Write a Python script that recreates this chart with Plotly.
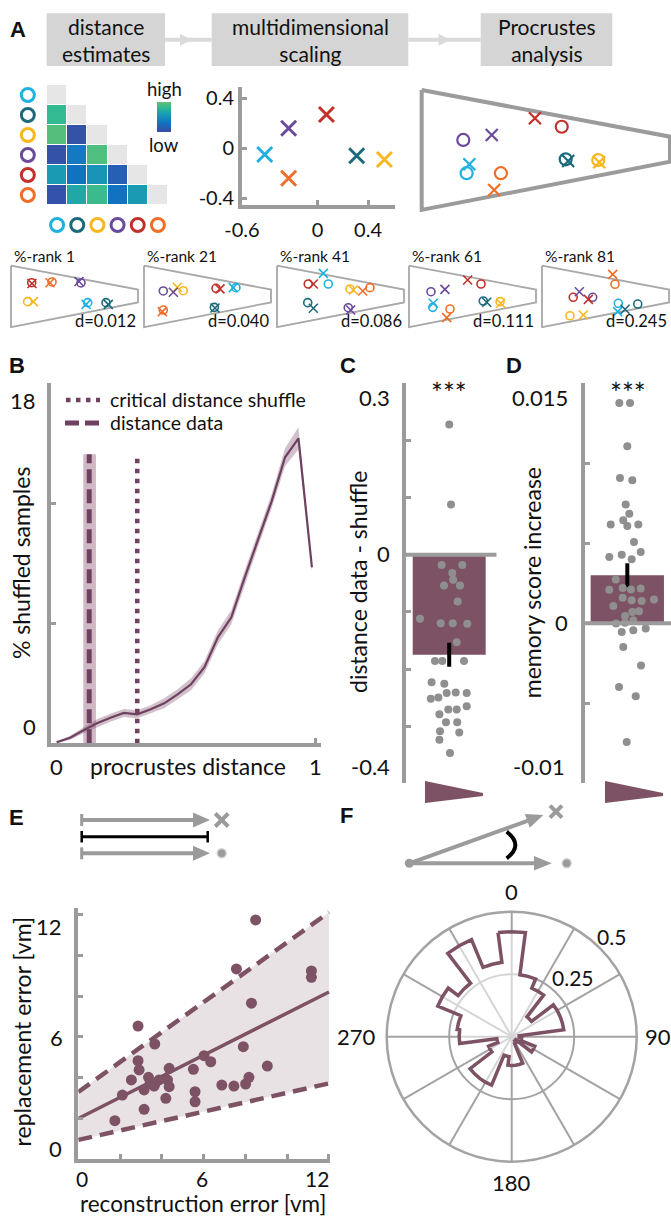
import plotly.graph_objects as go

W, H = 671, 1218
FONT = 'Lato'
GRAY = '#9b9b9b'
MAUVE = '#7d5264'
LMAUVE = '#6f4161'
DOT = '#8f8f8f'

def X(p):
    return p / W

def Y(p):
    return 1 - p / H

def dx(a, b):
    return [max(0, a / W), min(1, b / W)]

def dy(top, bottom):
    return [max(0, 1 - bottom / H), min(1, 1 - top / H)]

# ---------------- data ----------------
items = ['cyan', 'teal', 'yellow', 'purple', 'red', 'orange']
item_colors = ['#1fb1e0', '#1a6a7a', '#f8b71f', '#6a4a9b', '#c1312a', '#ef6e28']
item_idx = [0, 1, 2, 3, 4, 5]

# lower triangle of the distance-estimate matrix (0 = low, 1 = high)
dist_rows = [[], [0.82], [0.95, 0.05], [0.05, 0.35, 0.93],
             [0.6, 0.3, 0.55, 0.15], [0.06, 0.68, 0.85, 0.3, 0.6]]

# multidimensional scaling solution
mds_x = [-0.42, 0.31, 0.53, -0.23, 0.07, -0.23]
mds_y = [-0.05, -0.06, -0.09, 0.16, 0.27, -0.24]

# arena outline (arena units)
arena_u = [0, 100, 100, 0, 0]
arena_v = [0, 18.8, 28.9, 48.3, 0]

# procrustes: true (o) and reconstructed (x) positions
true_u = [18.1, 58.0, 71.1, 16.75, 56.4, 31.9]
true_v = [33.5, 27.9, 28.2, 20.1, 14.8, 33.5]
rec_u = [19.2, 59.0, 71.5, 28.2, 45.6, 29.2]
rec_v = [29.9, 28.6, 29.1, 18.1, 11.4, 40.3]

# shuffle examples
rank_labels = ['1', '21', '41', '61', '81']
rank_d = ['0.012', '0.040', '0.086', '0.111', '0.245']
rank_true_u = [[60.4, 74.8, 13.1, 55.1, 16.3, 32.3],
               [72.4, 55.4, 30.9, 15.2, 56.7, 15.2],
               [40.4, 24.2, 57.5, 56.1, 24.6, 73.2],
               [18.7, 58.5, 71.7, 17.3, 56.7, 32.3],
               [60.1, 75.4, 22.0, 39.9, 24.6, 57.5]]
rank_true_v = [[29.1, 29.1, 28.3, 13.6, 13.4, 12.8],
               [17.3, 32.8, 19.7, 19.9, 17.8, 34.9],
               [14.4, 29.1, 18.3, 33.1, 14.4, 17.3],
               [32.8, 27.8, 28.3, 20.5, 14.4, 34.1],
               [29.6, 30.2, 39.4, 24.9, 24.9, 14.6]]
rank_rec_u = [[59.1, 76.6, 17.6, 53.5, 16.5, 30.7],
              [70.3, 55.9, 26.2, 23.1, 59.8, 14.4],
              [36.5, 28.6, 60.1, 58.0, 28.6, 67.5],
              [19.1, 61.2, 72.2, 28.3, 46.2, 29.7],
              [59.6, 65.4, 32.5, 29.4, 36.5, 55.7]]
rank_rec_v = [[30.5, 30.5, 28.3, 12.4, 14.0, 13.4],
              [17.3, 33.3, 17.0, 20.9, 18.3, 36.2],
              [6.0, 33.5, 19.1, 34.9, 14.4, 19.9],
              [29.6, 28.8, 29.6, 18.6, 11.3, 40.9],
              [36.2, 34.3, 38.8, 20.5, 26.5, 6.8]]

# B: distribution of procrustes distances of shuffles
proc_x = [0, 0.052, 0.104, 0.156, 0.208, 0.26, 0.312, 0.364, 0.416, 0.468,
          0.52, 0.572, 0.624, 0.676, 0.728, 0.78, 0.832, 0.884, 0.936, 0.988]
shuffle_pct = [0.05, 0.28, 0.65, 1.0, 1.28, 1.52, 1.45, 1.7, 2.0, 2.45,
               2.95, 3.8, 5.3, 6.3, 8.3, 10.2, 12.1, 14.3, 15.25, 8.8]
shuffle_ci = [0.05, 0.1, 0.15, 0.2, 0.2, 0.2, 0.2, 0.2, 0.25, 0.25,
              0.3, 0.3, 0.35, 0.35, 0.35, 0.35, 0.35, 0.45, 0.55, 0.2]
crit_shuffle = 0.312
data_dist = 0.126
data_ci = [0.103, 0.152]
vline_top = 14.45

# C: distance data - shuffle
c_mean, c_sem = -0.175, 0.021
c_jit = [0.001, 0.025, -0.103, 0.179, 0.042, 0.055, -0.071, 0.148, 0.116, -0.4,
         -0.116, 0.048, 0.248, 0.103, -0.195, -0.094, 0.203, -0.241, -0.067, -0.252,
         -0.148, -0.034, 0.089, 0.24, -0.134, -0.012, 0.103, 0.24, -0.044, 0.11,
         -0.126, 0.138, -0.134, 0.011]
c_val = [0.228, 0.088, -0.018, -0.018, -0.032, -0.044, -0.054, -0.054, -0.082, -0.112,
         -0.12, -0.12, -0.121, -0.153, -0.186, -0.186, -0.186, -0.223, -0.226, -0.252,
         -0.25, -0.242, -0.241, -0.242, -0.279, -0.271, -0.271, -0.265, -0.293, -0.293,
         -0.309, -0.311, -0.324, -0.347]

# D: memory score increase
d_mean, d_sem = 0.003, 0.00075
d_jit = [-0.109, 0.037, 0.0, -0.1, 0.068, -0.022, 0.027, -0.055, -0.226, 0.0,
         0.15, 0.091, -0.246, -0.076, 0.06, 0.183, -0.158, -0.246, -0.063, 0.05,
         0.183, 0.364, -0.191, -0.063, 0.06, 0.196, -0.031, 0.068, 0.16, -0.154,
         -0.031, 0.082, -0.076, 0.082, 0.251, -0.055, 0.187, -0.113, 0.115, -0.008]
d_val = [0.01377, 0.01377, 0.01106, 0.00908, 0.00894, 0.00742, 0.00685, 0.00644, 0.00617, 0.00608,
         0.00617, 0.00508, 0.00415, 0.00429, 0.004, 0.00446, 0.00273, 0.0021, 0.00221, 0.00212,
         0.00217, 0.00148, 0.00108, 0.0016, 0.00144, 0.0014, 0.00046, 0.00071, 0.00075, -0.00002,
         0.00004, 0.00019, -0.00054, -0.00044, -0.00033, -0.00148, -0.00263, -0.00398, -0.00456, -0.00742]

# E: reconstruction vs replacement error
recon = [8.49, 11.16, 11.16, 7.57, 8.29, 2.86, 3.66, 2.86, 2.91, 2.54,
         3.36, 4.35, 5.51, 6.02, 6.34, 7.9, 9.05, 8.17, 8.01, 7.45,
         6.87, 4.27, 4.35, 3.66, 3.15, 3.63, 2.11, 5.59, 5.59, 4.19,
         3.15, 1.75, 3.44, 3.87]
replace = [11.73, 9.23, 8.92, 9.33, 7.65, 6.53, 5.65, 4.83, 4.38, 3.89,
           4.02, 4.46, 4.41, 5.08, 4.78, 5.52, 4.57, 4.02, 3.69, 3.59,
           3.64, 3.89, 3.56, 3.69, 3.40, 3.59, 3.15, 3.31, 2.82, 2.99,
           2.45, 1.89, 3.72, 3.89]
fit_x = [0, 12]
fit_y = [2.0, 8.2]
fit_hi = [3.3, 12.1]
fit_lo = [0.95, 3.72]

# F: angular error distribution (15 deg bins)
rose_theta = [0, 15, 30, 45, 60, 75, 90, 105, 120, 135, 150, 165,
              180, 195, 210, 225, 240, 255, 270, 285, 300, 315, 330, 345]
rose_r = [0.42, 0.25, 0.21, 0.10, 0.21, 0.21, 0.03, 0.04, 0.10, 0.02, 0.03, 0.115,
          0.115, 0.08, 0.21, 0.21, 0.10, 0.06, 0.21, 0.22, 0.32, 0.27, 0.42, 0.30]

# ---------------- figure ----------------
fig = go.Figure()
L = dict(width=W, height=H, margin=dict(l=0, r=0, t=0, b=0, autoexpand=False),
         paper_bgcolor='white', plot_bgcolor='white', showlegend=False)
shapes = []
anns = []

def T(x, y, s, size=23, xa='center', ya='middle', angle=0, bold=False, color='#111111'):
    anns.append(dict(x=X(x), y=Y(y), xref='paper', yref='paper', text=('<b>%s</b>' % s) if bold else s,
                     showarrow=False, xanchor=xa, yanchor=ya, textangle=angle,
                     font=dict(size=size, family='Liberation Sans' if bold else FONT, color=color)))

def line(x0, y0, x1, y1, color=GRAY, width=4, dash=None):
    d = dict(type='line', xref='paper', yref='paper', x0=X(x0), y0=Y(y0), x1=X(x1), y1=Y(y1),
             line=dict(color=color, width=width))
    if dash:
        d['line']['dash'] = dash
    shapes.append(d)

def poly(pts, fill, lw=0, lc=None):
    path = 'M ' + ' L '.join('%f %f' % (X(a), Y(b)) for a, b in pts) + ' Z'
    shapes.append(dict(type='path', xref='paper', yref='paper', path=path, fillcolor=fill,
                       line=dict(width=lw, color=lc or fill)))

def hidden(n, xd, yd, xr, yr):
    s = '' if n == 1 else str(n)
    L['xaxis' + s] = dict(domain=xd, range=xr, visible=False, anchor='y' + s)
    L['yaxis' + s] = dict(domain=yd, range=yr, visible=False, anchor='x' + s)

# ---- A header boxes ----
for (a, b), l1, l2 in [((46.7, 165), 'distance', 'estimates'),
                       ((211.7, 408.3), 'multidimensional', 'scaling'),
                       ((480.7, 612.3), 'Procrustes', 'analysis')]:
    shapes.append(dict(type='rect', xref='paper', yref='paper', x0=X(a), x1=X(b), y0=Y(66), y1=Y(13.3),
                       fillcolor='#d5d5d5', line=dict(width=0)))
    T((a + b) / 2, 40, l1 + '<br>' + l2, size=21)
for a, b, h in [(165, 211.7, 180), (408.3, 480.7, 438.5)]:
    line(a, 39.7, b, 39.7, color='#dadada', width=4)
    poly([(h, 33.7), (h + 12, 39.7), (h, 45.7)], '#dadada')
T(18, 30, 'A', size=22, bold=True)

# ---- matrix ----
z = [[None] * 6 for _ in range(6)]
zd = [[None] * 6 for _ in range(6)]
for i, row in enumerate(dist_rows):
    for j, v in enumerate(row):
        z[i][j] = v
    zd[i][i] = 1
fig.add_trace(go.Heatmap(z=zd, x=item_idx, y=item_idx, colorscale=[[0, '#e6e6e6'], [1, '#e6e6e6']],
                         showscale=False, xgap=1, ygap=1, xaxis='x', yaxis='y', hoverinfo='skip'))
fig.add_trace(go.Heatmap(z=z, x=item_idx, y=item_idx, zmin=0, zmax=1, xgap=1, ygap=1,
                         colorscale=[[0, '#3a4ba3'], [0.3, '#1272c2'], [0.6, '#1a9bb3'],
                                     [0.8, '#2eb995'], [1, '#63c073']],
                         colorbar=dict(x=X(157), xanchor='left', y=Y(117), yanchor='middle', len=30,
                                       lenmode='pixels', thickness=14, thicknessmode='pixels',
                                       showticklabels=False, ticks='', outlinewidth=0, xpad=0, ypad=0),
                         xaxis='x', yaxis='y', hoverinfo='skip'))
fig.add_trace(go.Scatter(x=[-1.45] * 6, y=item_idx, mode='markers', cliponaxis=False,
                         marker=dict(symbol='circle-open', size=13, color=item_colors, line=dict(width=3)),
                         xaxis='x', yaxis='y'))
fig.add_trace(go.Scatter(x=item_idx, y=[6.5] * 6, mode='markers', cliponaxis=False,
                         marker=dict(symbol='circle-open', size=13, color=item_colors, line=dict(width=3)),
                         xaxis='x', yaxis='y'))
# cell = 20.17 px wide, 20 px tall; axis extends to hold the item circles
hidden(1, dx(47 - 1.5 * 20.17, 168), dy(85, 205 + 1.5 * 20), [-2.0, 5.5], [7.0, -0.5])
T(164, 89, 'high', size=18.5)
T(164, 145, 'low', size=18.5)

# ---- MDS ----
fig.add_trace(go.Scatter(x=mds_x, y=mds_y, mode='markers', cliponaxis=False,
                         marker=dict(symbol='x-thin', size=15, color=item_colors,
                                     line=dict(width=3, color=item_colors)),
                         xaxis='x2', yaxis='y2'))
ax_common = dict(showline=True, linecolor=GRAY, linewidth=4, ticks='inside', ticklen=5, tickwidth=3,
                 tickcolor=GRAY, showgrid=False, zeroline=False, tickfont=dict(size=20, family=FONT, color='#111'))
L['xaxis2'] = dict(domain=dx(242, 395), range=[-0.6, 0.614], anchor='y2', tickvals=[-0.6, 0, 0.4],
                   ticktext=['-0.6', '0', '0.4'], ticklabelstandoff=4, **ax_common)
L['yaxis2'] = dict(domain=dy(87, 205), range=[-0.454, 0.49], anchor='x2', tickvals=[-0.4, 0, 0.4],
                   ticktext=['-0.4', '0', '0.4'], **ax_common)

# ---- big arena ----
fig.add_trace(go.Scatter(x=arena_u, y=arena_v, mode='lines', line=dict(color=GRAY, width=4),
                         xaxis='x3', yaxis='y3'))
fig.add_trace(go.Scatter(x=true_u, y=true_v, mode='markers',
                         marker=dict(symbol='circle-open', size=12, color=item_colors, line=dict(width=2.2)),
                         xaxis='x3', yaxis='y3'))
fig.add_trace(go.Scatter(x=rec_u, y=rec_v, mode='markers',
                         marker=dict(symbol='x-thin', size=12, color=item_colors,
                                     line=dict(width=2.2, color=item_colors)),
                         xaxis='x3', yaxis='y3'))
hidden(3, dx(412, 671), dy(84, 216), [-3.9, 100.4], [50.74, -2.42])

# ---- shuffle examples ----
lefts = [11, 144, 277, 409, 542]
for k in range(5):
    n = 4 + k
    xa, ya = 'x%d' % n, 'y%d' % n
    fig.add_trace(go.Scatter(x=arena_u, y=arena_v, mode='lines', line=dict(color='#a8a8a8', width=1.8),
                             xaxis=xa, yaxis=ya))
    fig.add_trace(go.Scatter(x=rank_true_u[k], y=rank_true_v[k], mode='markers', cliponaxis=False,
                             marker=dict(symbol='circle-open', size=8, color=item_colors, line=dict(width=1.6)),
                             xaxis=xa, yaxis=ya))
    fig.add_trace(go.Scatter(x=rank_rec_u[k], y=rank_rec_v[k], mode='markers', cliponaxis=False,
                             marker=dict(symbol='x-thin', size=9, color=item_colors,
                                         line=dict(width=1.6, color=item_colors)),
                             xaxis=xa, yaxis=ya))
    lf = lefts[k]
    hidden(n, dx(lf - 3, lf + 129), dy(262, 331), [-3 / 1.27, 129 / 1.27], [51.42, -2.913])
    T(lf + 0.5, 256, '%-rank ' + rank_labels[k], size=15.5, xa='left')
    T(lf + 127, 321, 'd=' + rank_d[k], size=16.5, xa='right')

# ---- B ----
lo = [a - b for a, b in zip(shuffle_pct, shuffle_ci)]
hi = [a + b for a, b in zip(shuffle_pct, shuffle_ci)]
fig.add_trace(go.Scatter(x=[data_ci[0], data_ci[1], data_ci[1], data_ci[0]], y=[0, 0, vline_top, vline_top],
                         mode='lines', fill='toself', fillcolor='rgba(150,100,125,0.45)', line=dict(width=0),
                         xaxis='x9', yaxis='y9'))
fig.add_trace(go.Scatter(x=proc_x, y=lo, mode='lines', line=dict(width=0), xaxis='x9', yaxis='y9'))
fig.add_trace(go.Scatter(x=proc_x, y=hi, mode='lines', line=dict(width=0), fill='tonexty',
                         fillcolor='rgba(125,75,105,0.35)', xaxis='x9', yaxis='y9'))
fig.add_trace(go.Scatter(x=proc_x, y=shuffle_pct, mode='lines', line=dict(color=LMAUVE, width=2.2),
                         xaxis='x9', yaxis='y9'))
fig.add_trace(go.Scatter(x=[data_dist, data_dist], y=[0, vline_top], mode='lines',
                         line=dict(color=LMAUVE, width=5, dash='14px,6px'), xaxis='x9', yaxis='y9'))
fig.add_trace(go.Scatter(x=[crit_shuffle, crit_shuffle], y=[0, vline_top], mode='lines',
                         line=dict(color=LMAUVE, width=4.5, dash='4.5px,5.5px'), xaxis='x9', yaxis='y9'))
ac2 = {k: v for k, v in ax_common.items() if k != 'tickfont'}
L['xaxis9'] = dict(domain=dx(51, 320.7), range=[-0.022, 1.022], anchor='y9', tickvals=[1],
                   showticklabels=False, **ac2)
L['yaxis9'] = dict(domain=dy(383.3, 743.3), range=[0, 18], anchor='x9', tickvals=[0, 6, 12, 18],
                   showticklabels=False, **ac2)
T(17, 365, 'B', size=22, bold=True)
line(66, 400, 100, 400, color=LMAUVE, width=4.5, dash='4.5px,5.5px')
line(65, 423, 100, 423, color=LMAUVE, width=5, dash='14px,6px')
T(108.3, 399, 'critical distance shuffle', size=19.5, xa='left')
T(108.3, 422.5, 'distance data', size=19.5, xa='left')
T(38, 400, '18', size=22, xa='right')
T(38, 726.5, '0', size=22, xa='right')
T(56.7, 766, '0', size=22)
T(315, 766, '1', size=22)
T(187.5, 766, 'procrustes distance')
T(21, 563, '% shuffled samples', angle=-90)

# ---- C ----
fig.add_trace(go.Bar(x=[0], y=[c_mean], width=1, marker=dict(color=MAUVE, line=dict(width=0)),
                     error_y=dict(type='data', array=[c_sem], color='black', thickness=4, width=0),
                     xaxis='x10', yaxis='y10'))
fig.add_trace(go.Scatter(x=c_jit, y=c_val, mode='markers', marker=dict(color=DOT, size=8),
                         xaxis='x10', yaxis='y10'))
L['xaxis10'] = dict(domain=dx(405.7, 496.7), range=[-0.596, 0.651], anchor='y10', visible=False)
L['yaxis10'] = dict(domain=dy(383.3, 783.3), range=[-0.4, 0.3], anchor='x10',
                    tickvals=[-0.4, -0.3, -0.2, -0.1, 0, 0.1, 0.2, 0.3], showticklabels=False, **ac2)
shapes.append(dict(type='line', xref='x10', yref='y10', x0=-0.596, x1=0.651, y0=0, y1=0,
                   line=dict(color=GRAY, width=4), layer='above'))
T(348, 366, 'C', size=22, bold=True)
T(449.2, 393, '***', size=28)
T(392, 398, '0.3', size=22, xa='right')
T(392, 553, '0', size=22, xa='right')
T(392, 766, '-0.4', size=22, xa='right')
T(357.5, 582.5, 'distance data - shuffle', angle=-90)
poly([(425, 781), (483, 793), (483, 796), (425, 803)], MAUVE)

# ---- D ----
fig.add_trace(go.Bar(x=[0], y=[d_mean], width=1, marker=dict(color=MAUVE, line=dict(width=0)),
                     error_y=dict(type='data', array=[d_sem], color='black', thickness=4, width=0),
                     xaxis='x11', yaxis='y11'))
fig.add_trace(go.Scatter(x=d_jit, y=d_val, mode='markers', marker=dict(color=DOT, size=8),
                         xaxis='x11', yaxis='y11'))
L['xaxis11'] = dict(domain=dx(585, 671), range=[-0.577, 0.596], anchor='y11', visible=False)
L['yaxis11'] = dict(domain=dy(383.3, 783.3), range=[-0.01, 0.015], anchor='x11',
                    tickvals=[-0.01, -0.005, 0, 0.005, 0.01, 0.015], showticklabels=False, **ac2)
shapes.append(dict(type='line', xref='x11', yref='y11', x0=-0.577, x1=0.596, y0=0, y1=0,
                   line=dict(color=GRAY, width=4), layer='above'))
T(514, 366, 'D', size=22, bold=True)
T(627.5, 393, '***', size=28)
T(570, 398, '0.015', size=22, xa='right')
T(570, 622, '0', size=22, xa='right')
T(567, 766, '-0.01', size=22, xa='right')
T(531.7, 582.5, 'memory score increase', angle=-90)
poly([(605, 781), (663, 793), (663, 796), (605, 803)], MAUVE)

# ---- E ----
fig.add_trace(go.Scatter(x=[fit_x[0], fit_x[1], fit_x[1], fit_x[0]], y=[fit_lo[0], fit_lo[1], fit_hi[1], fit_hi[0]],
                         mode='lines', fill='toself', fillcolor='rgba(125,82,100,0.17)', line=dict(width=0),
                         xaxis='x12', yaxis='y12'))
fig.add_trace(go.Scatter(x=fit_x, y=fit_hi, mode='lines', line=dict(color=MAUVE, width=4.5, dash='14px,8px'),
                         xaxis='x12', yaxis='y12'))
fig.add_trace(go.Scatter(x=fit_x, y=fit_lo, mode='lines', line=dict(color=MAUVE, width=4.5, dash='14px,8px'),
                         xaxis='x12', yaxis='y12'))
fig.add_trace(go.Scatter(x=fit_x, y=fit_y, mode='lines', line=dict(color=MAUVE, width=3.5),
                         xaxis='x12', yaxis='y12'))
fig.add_trace(go.Scatter(x=recon, y=replace, mode='markers', cliponaxis=False,
                         marker=dict(color=MAUVE, size=11), xaxis='x12', yaxis='y12'))
L['xaxis12'] = dict(domain=dx(78.3, 330), range=[0, 12.05], anchor='y12', tickvals=[0, 2, 4, 6, 8, 10, 12],
                    showticklabels=False, **ac2)
L['yaxis12'] = dict(domain=dy(908.3, 1159.3), range=[0, 12.3], anchor='x12', tickvals=[0, 2, 4, 6, 8, 10, 12],
                    showticklabels=False, **ac2)
T(16.7, 817.5, 'E', size=22, bold=True)
T(64, 926.7, '12', size=22, xa='right')
T(65, 1037, '6', size=22, xa='right')
T(64, 1148.3, '0', size=22, xa='right')
T(81.7, 1178, '0', size=21)
T(201.7, 1178, '6', size=21)
T(316.7, 1178, '12', size=21)
T(203, 1218.5, 'reconstruction error [vm]', size=22.5, ya='bottom')
T(21.7, 1031.7, 'replacement error [vm]', angle=-90)
# schematic E
for yy in (820, 853.3):
    line(81.7, yy, 195, yy, width=4)
    line(81.7, yy - 6, 81.7, yy + 6, width=3)
    poly([(193, yy - 7.5), (210, yy), (193, yy + 7.5)], GRAY)
line(81.7, 836.7, 207.7, 836.7, color='black', width=3)
line(81.7, 831, 81.7, 842.5, color='black', width=2.5)
line(207.7, 831, 207.7, 842.5, color='black', width=2.5)
line(215.2, 813.5, 228.2, 826.5, width=4)
line(215.2, 826.5, 228.2, 813.5, width=4)
shapes.append(dict(type='circle', xref='paper', yref='paper', x0=X(217.2), x1=X(226.2), y0=Y(857.8), y1=Y(848.8),
                   fillcolor=GRAY, line=dict(color='#d2d2d2', width=1.5)))

# ---- F ----
th, rr = [], []
for c, r in zip(rose_theta, rose_r):
    th += [c - 7.5, c, c + 7.5]
    rr += [r, r, r]
th.append(th[0])
rr.append(rr[0])
fig.add_trace(go.Scatterpolar(theta=th, r=rr, mode='lines', fill='toself', fillcolor='rgba(255,255,255,0.55)',
                              line=dict(color=MAUVE, width=3.5), subplot='polar'))
L['polar'] = dict(domain=dict(x=[X(386.7), X(636.7)], y=[Y(1161.7), Y(911.7)]), bgcolor='white', hole=0,
                  angularaxis=dict(direction='clockwise', rotation=90, dtick=30, showticklabels=False, ticks='',
                                   showline=True, linecolor='#a3a3a3', linewidth=2.5,
                                   gridcolor='#a3a3a3', gridwidth=2),
                  radialaxis=dict(range=[0, 0.5], tickvals=[0.25, 0.5], showticklabels=False, ticks='',
                                  showline=False, gridcolor='#a3a3a3', gridwidth=2))
T(346, 815, 'F', size=22, bold=True)
T(511.7, 891.7, '0', size=22)
T(658, 1036.7, '90', size=22)
T(511.7, 1182, '180', size=22)
T(356.7, 1036.7, '270', size=22)
T(611.7, 936.5, '0.5', size=21)
T(573.3, 977.5, '0.25', size=21)
# schematic F
line(409.3, 863.3, 537, 863.3, width=4)
poly([(534, 856), (551.7, 863.3), (534, 870.6)], GRAY)
line(409.3, 863.3, 527.5, 820.8, width=4)
poly([(529.8, 827.7), (543.3, 815), (524.8, 813.9)], GRAY)
shapes.append(dict(type='circle', xref='paper', yref='paper', x0=X(404.8), x1=X(413.8), y0=Y(867.8), y1=Y(858.8),
                   fillcolor=GRAY, line=dict(width=0)))
line(550, 805.7, 562, 817.7, width=4)
line(550, 817.7, 562, 805.7, width=4)
shapes.append(dict(type='circle', xref='paper', yref='paper', x0=X(562.2), x1=X(571.2), y0=Y(867.8), y1=Y(858.8),
                   fillcolor=GRAY, line=dict(color='#d2d2d2', width=1.5)))
shapes.append(dict(type='path', xref='paper', yref='paper',
                   path='M %f %f Q %f %f %f %f' % (X(506.7), Y(831.7), X(524), Y(845), X(506.7), Y(858.3)),
                   line=dict(color='black', width=4)))

L['shapes'] = shapes
L['annotations'] = anns
fig.update_layout(**L)
fig.write_html('out.html')
